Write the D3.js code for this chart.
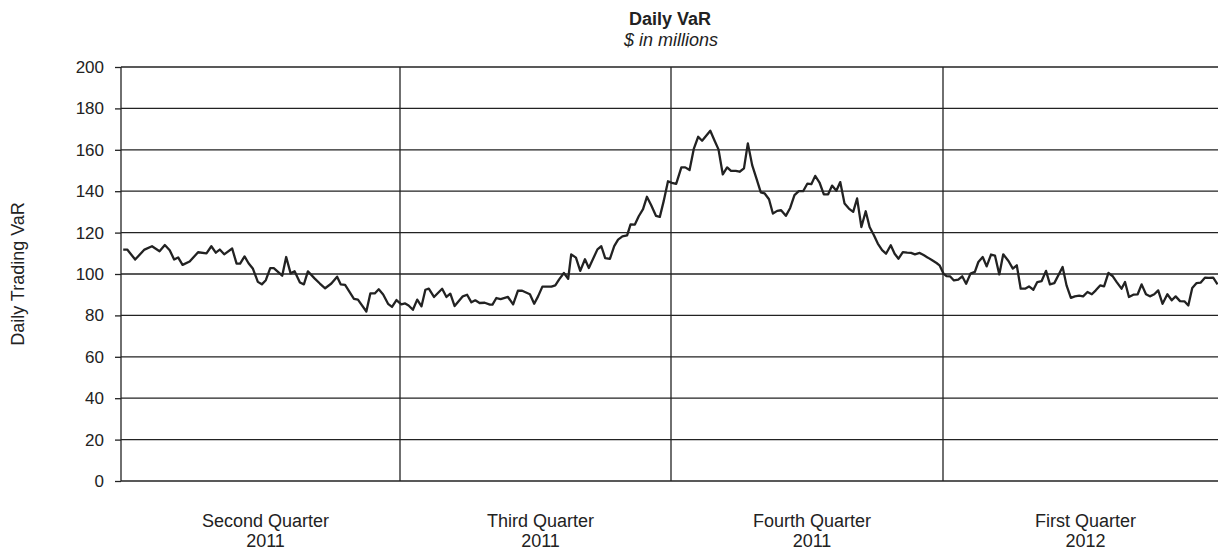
<!DOCTYPE html>
<html>
<head>
<meta charset="utf-8">
<script src="https://cdn.jsdelivr.net/npm/d3@7"></script>
<style>
  body { margin: 0; background: #fff; }
  text { font-family: "Liberation Sans", Arial, Helvetica, sans-serif; fill: #222; }
</style>
</head>
<body>
<div id="chart"></div>
<script>
// Quarter labels (two lines each)
const quarters = ["Second Quarter", "Third Quarter", "Fourth Quarter", "First Quarter"];
const years = ["2011", "2011", "2011", "2012"];

// Trading day at which each quarter starts / ends
const quarterDays = [0, 63, 126, 189, 252];

const yTicks = [0, 20, 40, 60, 80, 100, 120, 140, 160, 180, 200];

// [trading day, VaR $m], one array per quarter
const q2_2011 = [[0.5,111.8],[1.4,111.8],[3.2,107],[5.3,111.8],[7.0,113.4],[8.7,111],[9.9,114],[11.0,111.5],[12.0,107],[12.9,108],[13.9,104.4],[15.5,106],[17.4,110.5],[19.3,110],[20.4,113.4],[21.4,110.3],[22.3,111.8],[23.3,109.5],[25.1,112.3],[26.1,105],[26.9,105],[27.9,108.5],[28.8,105.2],[29.8,102.5],[30.9,96.2],[31.8,95],[32.7,97],[33.7,102.8],[34.5,102.8],[36.4,99.2],[37.3,108.2],[38.3,100.3],[39.2,101.3],[40.4,95.9],[41.3,95],[42.2,101.3],[43.7,97.9],[44.9,95.4],[46.1,93.1],[47.5,95.4],[48.8,98.7],[49.6,95],[50.6,94.7],[52.6,88],[53.5,87.6],[55.4,81.9],[56.3,90.6],[57.3,90.6],[58.2,92.6],[59.2,90.1],[60.3,85.6],[61.2,84.1],[62.2,87.4]];

const q3_2011 = [[63.3,85.3],[64.2,85.8],[65.0,84.8],[66.0,82.7],[67.0,87.6],[68.0,84.4],[68.9,92.4],[69.7,92.9],[70.9,88.9],[72.8,92.9],[73.8,88.9],[74.7,90.5],[75.7,84.5],[77.6,89.2],[78.6,90],[79.6,86.3],[80.5,87.3],[81.5,86],[82.7,86.1],[83.9,85.2],[84.5,85.2],[85.4,88.4],[86.4,87.9],[88.1,88.9],[89.3,85.3],[90.4,91.9],[91.4,91.9],[93.2,90.2],[94.2,85.6],[95.1,89.2],[96.1,93.9],[98.2,93.9],[99.1,94.5],[100.0,97.4],[101.1,100.5],[102.1,97.7],[102.8,109.5],[103.9,107.9],[104.9,101.5],[106.0,107.1],[106.9,102.9],[108.9,111.9],[109.8,113.4],[110.7,107.7],[111.8,107.3],[112.8,113.5],[113.7,116.6],[114.7,118.2],[115.8,118.7],[116.6,124],[117.6,123.9],[118.5,127.9],[119.5,131.3],[120.4,137.3],[121.4,133.2],[122.5,128.1],[123.4,127.6],[124.3,135.2],[125.3,144.8]];

const q4_2011 = [[126.2,144],[127.2,143.5],[128.4,151.5],[129.3,151.5],[130.3,150.2],[131.3,160.6],[132.3,166.3],[133.2,164.4],[135.1,169.2],[136.1,164.4],[137.0,160.2],[138.0,148.1],[139.0,151.5],[139.9,149.8],[141.0,149.8],[141.9,149.4],[142.9,151],[143.8,163.1],[144.8,152.6],[145.8,146.1],[146.8,139.4],[147.7,138.9],[148.7,136.1],[149.6,129.2],[150.6,130.5],[151.5,130.8],[152.6,128.1],[153.6,131.9],[154.6,138.1],[155.6,140],[156.6,140],[157.6,143.7],[158.5,143.4],[159.4,147.4],[160.4,144.2],[161.4,138.5],[162.4,138.5],[163.3,142.7],[164.3,140.2],[165.2,144.4],[166.2,134],[167.2,131.6],[168.2,130],[169.1,136.5],[170.1,122.7],[171.1,130.3],[172.0,122.7],[173.0,118.7],[173.9,114.7],[174.9,111.5],[175.8,109.8],[176.9,113.9],[177.8,109.8],[178.7,107.4],[179.7,110.6],[180.7,110.3],[181.6,110.2],[182.5,109.5],[183.6,110.2],[184.6,109],[185.5,107.9],[186.5,106.6],[187.5,105.3],[188.2,104.2]];

const q1_2012 = [[189.1,100.2],[189.8,99],[190.6,98.9],[191.5,96.9],[192.5,97.3],[193.4,98.9],[194.3,95.3],[195.3,100.2],[196.3,101],[197.1,105.8],[198.1,108.2],[199.0,103.7],[200.0,109.4],[200.9,108.9],[201.9,99.8],[202.8,109.5],[204.0,106.3],[205.0,102.6],[205.9,104.2],[206.8,92.9],[207.8,92.9],[208.7,94],[209.7,92.4],[210.6,96.1],[211.6,96.6],[212.6,101.5],[213.5,95],[214.5,95.6],[216.4,103.4],[217.3,94.5],[218.3,88.5],[219.2,89.2],[220.2,89.5],[221.1,89.2],[222.1,91.3],[223.1,90.2],[224.0,92.1],[225.0,94.5],[225.9,94],[226.9,100.5],[227.9,98.9],[228.8,96.1],[229.9,92.9],[230.7,96.1],[231.6,88.9],[232.6,90],[233.6,90.2],[234.5,95],[235.5,90.2],[236.4,89.2],[237.4,90.2],[238.3,92.1],[239.3,85.6],[240.4,90.2],[241.4,87.3],[242.3,89.2],[243.3,86.9],[244.3,86.8],[245.2,84.8],[246.1,93.2],[247.1,95.6],[248.0,95.8],[249.0,98.2],[249.9,98.1],[250.9,98.2],[251.9,95]];

const width = 1218;
const height = 553;
const ink = "#222";

const svg = d3.select("#chart")
  .append("svg")
  .attr("width", width)
  .attr("height", height);

// quarters are not all the same width in the original, so piecewise scale
const x = d3.scaleLinear()
  .domain(quarterDays)
  .range([121, 400, 671, 943, 1218]);

const y = d3.scaleLinear()
  .domain([0, 200])
  .range([481, 67]);

// Horizontal grid + y axis
svg.append("g")
  .attr("transform", "translate(121,0)")
  .call(d3.axisLeft(y).tickValues(yTicks).tickSize(6).tickPadding(11))
  .call(g => g.select(".domain").remove())
  .call(g => g.selectAll(".tick line").attr("stroke", ink).attr("stroke-width", 1.3))
  .call(g => g.selectAll(".tick text")
    .style("font-size", "17px")
    .style("font-family", "'Liberation Sans', Arial, sans-serif")
    .attr("fill", ink));

svg.append("g")
  .selectAll("line")
  .data(yTicks)
  .join("line")
  .attr("x1", x(0))
  .attr("x2", width)
  .attr("y1", d => y(d))
  .attr("y2", d => y(d))
  .attr("stroke", ink)
  .attr("stroke-width", 1.3);

// Vertical lines: left axis + quarter dividers
svg.append("g")
  .selectAll("line")
  .data(quarterDays.slice(0, 4))
  .join("line")
  .attr("x1", d => x(d))
  .attr("x2", d => x(d))
  .attr("y1", y(200))
  .attr("y2", y(0))
  .attr("stroke", ink)
  .attr("stroke-width", 1.3);

// The VaR line
const allData = q2_2011.concat(q3_2011, q4_2011, q1_2012);

const line = d3.line()
  .x(d => x(d[0]))
  .y(d => y(d[1]));

svg.append("path")
  .datum(allData)
  .attr("fill", "none")
  .attr("stroke", ink)
  .attr("stroke-width", 2.3)
  .attr("stroke-linejoin", "round")
  .attr("d", line);

// Quarter labels under the plot
const mids = d3.range(4).map(i => (quarterDays[i] + quarterDays[i + 1]) / 2);

svg.append("g")
  .selectAll("text")
  .data(quarters)
  .join("text")
  .attr("x", (d, i) => x(mids[i]) + 5)
  .attr("y", 527)
  .attr("text-anchor", "middle")
  .style("font-size", "18px")
  .text(d => d);

svg.append("g")
  .selectAll("text")
  .data(years)
  .join("text")
  .attr("x", (d, i) => x(mids[i]) + 5)
  .attr("y", 547)
  .attr("text-anchor", "middle")
  .style("font-size", "18px")
  .text(d => d);

// Titles
svg.append("text")
  .attr("x", 670)
  .attr("y", 25)
  .attr("text-anchor", "middle")
  .style("font-size", "18px")
  .style("font-weight", "bold")
  .text("Daily VaR");

svg.append("text")
  .attr("x", 671)
  .attr("y", 46)
  .attr("text-anchor", "middle")
  .style("font-size", "18px")
  .style("font-style", "italic")
  .text("$ in millions");

svg.append("text")
  .attr("transform", `translate(24,${y(100)}) rotate(-90)`)
  .attr("text-anchor", "middle")
  .style("font-size", "18px")
  .text("Daily Trading VaR");
</script>
</body>
</html>
